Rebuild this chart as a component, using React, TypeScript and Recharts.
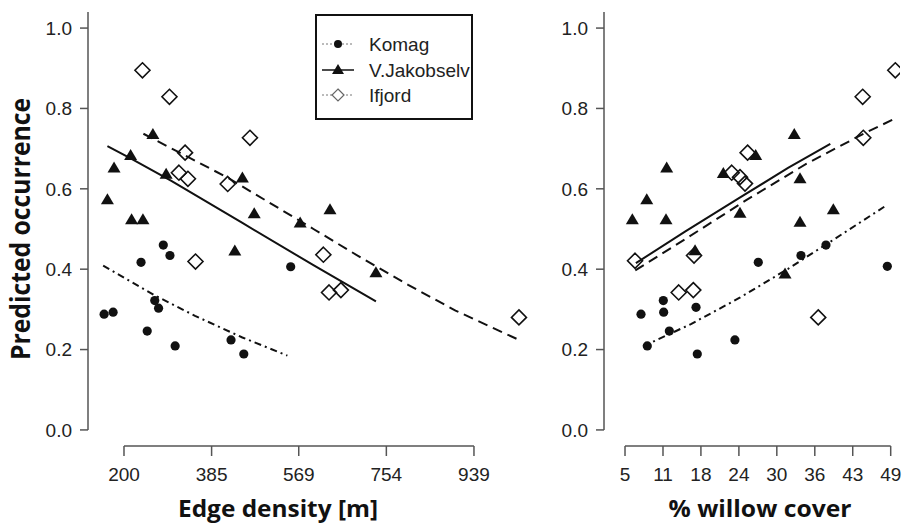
import React from "react";
import { ScatterChart, Scatter, XAxis, YAxis, ReferenceLine } from "recharts";

const Y_TICKS = [0, 0.2, 0.4, 0.6, 0.8, 1.0];
const EDGE_TICKS = [200, 385, 569, 754, 939];
const WILLOW_TICKS = [5, 11.29, 17.57, 23.86, 30.14, 36.43, 42.71, 49];

type Pt = { x: number; y: number };

// observed occurrence vs edge density
const edgeKomag: Pt[] = [
  { x: 283, y: 0.46 }, { x: 297, y: 0.434 }, { x: 236, y: 0.417 }, { x: 158, y: 0.288 },
  { x: 177, y: 0.293 }, { x: 265, y: 0.322 }, { x: 273, y: 0.303 }, { x: 249, y: 0.246 },
  { x: 308, y: 0.209 }, { x: 426, y: 0.224 }, { x: 453, y: 0.189 }, { x: 552, y: 0.406 },
];
const edgeJakob: Pt[] = [
  { x: 261, y: 0.735 }, { x: 214, y: 0.683 }, { x: 179, y: 0.652 }, { x: 289, y: 0.636 },
  { x: 165, y: 0.573 }, { x: 216, y: 0.523 }, { x: 240, y: 0.523 }, { x: 450, y: 0.627 },
  { x: 475, y: 0.538 }, { x: 572, y: 0.515 }, { x: 635, y: 0.548 }, { x: 434, y: 0.445 },
  { x: 732, y: 0.391 },
];
const edgeIfjord: Pt[] = [
  { x: 239, y: 0.895 }, { x: 296, y: 0.829 }, { x: 466, y: 0.727 }, { x: 329, y: 0.69 },
  { x: 316, y: 0.64 }, { x: 335, y: 0.625 }, { x: 419, y: 0.612 }, { x: 621, y: 0.436 },
  { x: 351, y: 0.419 }, { x: 633, y: 0.342 }, { x: 658, y: 0.348 }, { x: 1034, y: 0.28 },
];

// fitted curves, edge density
const edgeFitKomag: Pt[] = [
  { x: 156, y: 0.409 }, { x: 265, y: 0.335 }, { x: 350, y: 0.284 }, { x: 450, y: 0.23 }, { x: 545, y: 0.185 },
];
const edgeFitJakob: Pt[] = [
  { x: 165, y: 0.706 }, { x: 214, y: 0.676 }, { x: 300, y: 0.62 }, { x: 450, y: 0.515 },
  { x: 600, y: 0.41 }, { x: 732, y: 0.32 },
];
const edgeFitIfjord: Pt[] = [
  { x: 241, y: 0.737 }, { x: 420, y: 0.627 }, { x: 600, y: 0.5 }, { x: 700, y: 0.429 },
  { x: 800, y: 0.361 }, { x: 900, y: 0.297 }, { x: 1034, y: 0.224 },
];

// observed occurrence vs willow cover
const willowKomag: Pt[] = [
  { x: 7.65, y: 0.288 }, { x: 11.4, y: 0.293 }, { x: 11.34, y: 0.322 }, { x: 16.76, y: 0.305 },
  { x: 12.34, y: 0.246 }, { x: 8.69, y: 0.209 }, { x: 23.2, y: 0.224 }, { x: 16.97, y: 0.189 },
  { x: 27.07, y: 0.417 }, { x: 34.14, y: 0.434 }, { x: 48.44, y: 0.407 }, { x: 38.28, y: 0.46 },
];
const willowJakob: Pt[] = [
  { x: 33.03, y: 0.735 }, { x: 26.64, y: 0.683 }, { x: 11.9, y: 0.652 }, { x: 21.28, y: 0.638 },
  { x: 8.6, y: 0.573 }, { x: 6.21, y: 0.523 }, { x: 11.79, y: 0.523 }, { x: 33.98, y: 0.625 },
  { x: 24.04, y: 0.539 }, { x: 33.98, y: 0.517 }, { x: 39.5, y: 0.548 }, { x: 16.6, y: 0.446 },
  { x: 31.5, y: 0.388 },
];
const willowIfjord: Pt[] = [
  { x: 49.76, y: 0.895 }, { x: 44.36, y: 0.829 }, { x: 44.46, y: 0.727 }, { x: 25.3, y: 0.69 },
  { x: 22.67, y: 0.64 }, { x: 24.04, y: 0.629 }, { x: 24.87, y: 0.613 }, { x: 6.66, y: 0.421 },
  { x: 16.43, y: 0.434 }, { x: 13.89, y: 0.342 }, { x: 16.31, y: 0.348 }, { x: 37.0, y: 0.28 },
];

// fitted curves, willow cover
const willowFitKomag: Pt[] = [
  { x: 8, y: 0.208 }, { x: 16, y: 0.264 }, { x: 24, y: 0.329 }, { x: 32, y: 0.401 },
  { x: 40, y: 0.478 }, { x: 48.3, y: 0.559 },
];
const willowFitJakob: Pt[] = [
  { x: 6.8, y: 0.415 }, { x: 15, y: 0.494 }, { x: 24, y: 0.578 }, { x: 32, y: 0.652 }, { x: 39, y: 0.712 },
];
const willowFitIfjord: Pt[] = [
  { x: 6.7, y: 0.397 }, { x: 15, y: 0.475 }, { x: 25, y: 0.571 }, { x: 35, y: 0.662 },
  { x: 44.5, y: 0.737 }, { x: 50, y: 0.777 },
];

const INK = "#111";
const AXIS = "#555";
const TICK_FONT = { fontSize: 19, fill: "#222", fontFamily: "Liberation Sans, Arial, sans-serif" };

const Dot = (p: any) => <circle cx={p.cx} cy={p.cy} r={4.6} fill={INK} />;
const Tri = (p: any) => (
  <polygon points={`${p.cx},${p.cy - 6.5} ${p.cx - 6.5},${p.cy + 4.5} ${p.cx + 6.5},${p.cy + 4.5}`} fill={INK} />
);
const Diamond = (p: any) => (
  <polygon
    points={`${p.cx},${p.cy - 7.5} ${p.cx + 7.5},${p.cy} ${p.cx},${p.cy + 7.5} ${p.cx - 7.5},${p.cy}`}
    fill="none"
    stroke={INK}
    strokeWidth={1.6}
  />
);
const NoMark = () => <g />;

const Title = (p: any) => (
  <text
    x={p.px}
    y={p.py}
    transform={p.rot ? `rotate(-90 ${p.px} ${p.py})` : undefined}
    textAnchor="middle"
    textLength={p.len}
    lengthAdjust="spacingAndGlyphs"
    style={{ fontSize: p.size, fontWeight: 700, fontFamily: "Open Sans, sans-serif", fill: "#111" }}
  >
    {p.txt}
  </text>
);

interface PanelProps {
  width: number;
  yAxisWidth: number;
  marginRight: number;
  xDomain: [number, number];
  xTicks: number[];
  xTitle: string;
  xTitleX: number;
  xTitleLen: number;
  pts: [Pt[], Pt[], Pt[]];
  fits: [Pt[], Pt[], Pt[]];
  yTitle?: boolean;
}

const Panel = ({ width, yAxisWidth, marginRight, xDomain, xTicks, xTitle, xTitleX, xTitleLen, pts, fits, yTitle }: PanelProps) => (
  <ScatterChart width={width} height={523} margin={{ top: 12, right: marginRight, bottom: 0, left: 0 }}>
    <XAxis
      type="number"
      dataKey="x"
      domain={xDomain}
      ticks={xTicks}
      interval={0}
      allowDataOverflow
      axisLine={false}
      tickLine={{ stroke: AXIS, strokeWidth: 1.5 }}
      tickSize={10}
      tickMargin={12}
      height={77}
      tick={TICK_FONT}
      tickFormatter={(v: number) => String(Math.round(v))}
      label={<Title px={xTitleX} py={517} size={24} txt={xTitle} len={xTitleLen} />}
    />
    <YAxis
      type="number"
      dataKey="y"
      domain={[-0.04, 1.04]}
      ticks={Y_TICKS}
      interval={0}
      allowDataOverflow
      width={yAxisWidth}
      axisLine={false}
      tickLine={{ stroke: AXIS, strokeWidth: 1.5 }}
      tickSize={8}
      tickMargin={8}
      tick={TICK_FONT}
      tickFormatter={(v: number) => v.toFixed(1)}
      label={yTitle ? <Title px={30} py={229} rot size={26} txt="Predicted occurrence" len={262} /> : undefined}
    />
    <ReferenceLine
      segment={[{ x: xDomain[0], y: 0 }, { x: xDomain[0], y: 1.04 }]}
      stroke={AXIS}
      strokeWidth={1.5}
      ifOverflow="visible"
    />
    <ReferenceLine
      segment={[{ x: xTicks[0], y: -0.04 }, { x: xTicks[xTicks.length - 1], y: -0.04 }]}
      stroke={AXIS}
      strokeWidth={1.5}
      ifOverflow="visible"
    />
    <Scatter data={pts[0]} shape={Dot} isAnimationActive={false} />
    <Scatter data={pts[1]} shape={Tri} isAnimationActive={false} />
    <Scatter data={pts[2]} shape={Diamond} isAnimationActive={false} />
    <Scatter
      data={fits[0]}
      shape={NoMark}
      line={{ stroke: INK, strokeWidth: 2, strokeDasharray: "7 4 2 4" }}
      lineType="joint"
      isAnimationActive={false}
    />
    <Scatter
      data={fits[1]}
      shape={NoMark}
      line={{ stroke: INK, strokeWidth: 2 }}
      lineType="joint"
      isAnimationActive={false}
    />
    <Scatter
      data={fits[2]}
      shape={NoMark}
      line={{ stroke: INK, strokeWidth: 2, strokeDasharray: "10 6" }}
      lineType="joint"
      isAnimationActive={false}
    />
  </ScatterChart>
);

const LegendBox = () => {
  const rows = [
    { name: "Komag", cy: 30, base: 37 },
    { name: "V.Jakobselv", cy: 56, base: 63 },
    { name: "Ifjord", cy: 81, base: 88 },
  ];
  return (
    <svg width={158} height={106} style={{ position: "absolute", left: 315, top: 14 }}>
      <rect x={1} y={1} width={156} height={104} fill="#fff" stroke={INK} strokeWidth={2} />
      {rows.map((r, i) => (
        <g key={r.name}>
          <line
            x1={7}
            x2={39}
            y1={r.cy}
            y2={r.cy}
            stroke={i === 1 ? INK : "#777"}
            strokeWidth={i === 1 ? 1.5 : 1}
            strokeDasharray={i === 1 ? undefined : "2 2"}
          />
          {i === 0 && <circle cx={23} cy={r.cy} r={4} fill={INK} />}
          {i === 1 && <polygon points={`23,${r.cy - 6} 17,${r.cy + 4} 29,${r.cy + 4}`} fill={INK} />}
          {i === 2 && (
            <polygon
              points={`23,${r.cy - 6} 29,${r.cy} 23,${r.cy + 6} 17,${r.cy}`}
              fill="#fff"
              stroke="#666"
              strokeWidth={1.2}
            />
          )}
          <text x={54} y={r.base} style={TICK_FONT}>
            {r.name}
          </text>
        </g>
      ))}
    </svg>
  );
};

export default function App() {
  return (
    <div style={{ position: "absolute", left: 0, top: 0, width: 903, height: 523, background: "#fff", overflow: "hidden" }}>
      <div style={{ position: "absolute", left: 0, top: 0 }}>
        <Panel
          width={540}
          yAxisWidth={88}
          marginRight={4}
          xDomain={[124, 1070]}
          xTicks={EDGE_TICKS}
          xTitle="Edge density [m]"
          xTitleX={278}
          xTitleLen={200}
          pts={[edgeKomag, edgeJakob, edgeIfjord]}
          fits={[edgeFitKomag, edgeFitJakob, edgeFitIfjord]}
          yTitle
        />
      </div>
      <div style={{ position: "absolute", left: 540, top: 0 }}>
        <Panel
          width={363}
          yAxisWidth={64}
          marginRight={3}
          xDomain={[1.52, 50.54]}
          xTicks={WILLOW_TICKS}
          xTitle="% willow cover"
          xTitleX={220}
          xTitleLen={183}
          pts={[willowKomag, willowJakob, willowIfjord]}
          fits={[willowFitKomag, willowFitJakob, willowFitIfjord]}
        />
      </div>
      <LegendBox />
    </div>
  );
}
